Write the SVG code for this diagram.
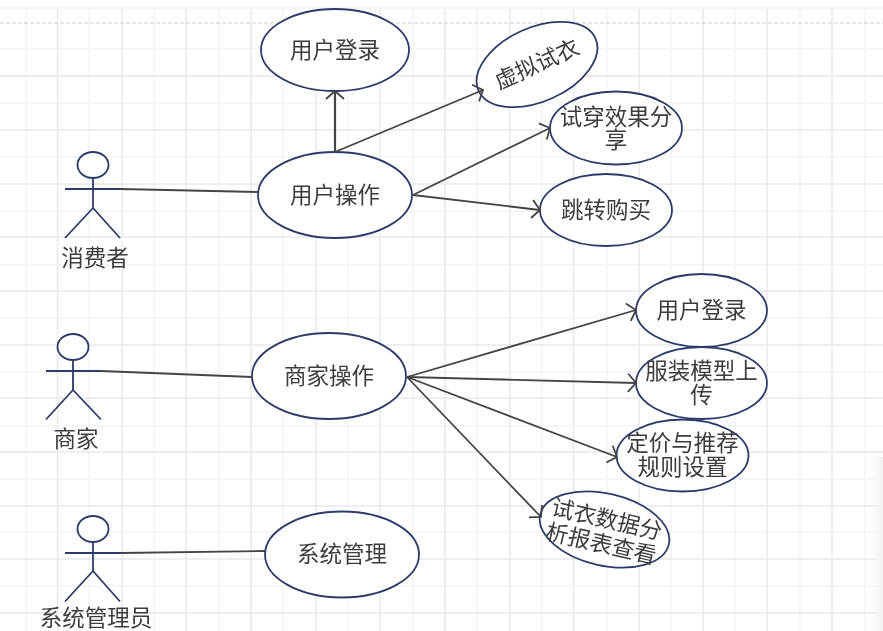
<svg xmlns="http://www.w3.org/2000/svg" width="883" height="631" viewBox="0 0 883 631">
<style>
.uc{fill:#fff;stroke:#2f3b6b;stroke-width:1.8}
.act{fill:none;stroke:#2f3b6b;stroke-width:1.8}
.hd{fill:#fff;stroke:#2f3b6b;stroke-width:1.8}
.t{font-family:"Liberation Sans","Noto Sans CJK SC",sans-serif;font-size:22.5px;fill:#3c3c3c;text-anchor:middle}
.c{fill:none;stroke:#444;stroke-width:1.8}
</style>
<defs>
<marker id="arr" markerUnits="userSpaceOnUse" markerWidth="24" markerHeight="24" refX="12" refY="12" orient="auto" overflow="visible">
<path d="M4,3 L12,12 L4,21" fill="none" stroke="#444" stroke-width="1.8"/>
</marker>
<linearGradient id="sh" x1="0" y1="0" x2="1" y2="0"><stop offset="0" stop-color="#f6f6f6" stop-opacity="0"/><stop offset="1" stop-color="#f2f2f2"/></linearGradient>
<filter id="soft" x="-2%" y="-2%" width="104%" height="104%"><feGaussianBlur stdDeviation="0.45"/></filter>
</defs>
<rect width="883" height="631" fill="#fff"/>
<g id="scene" filter="url(#soft)">
<g id="grid" fill="none">
<path stroke="#f4f4f4" stroke-width="1.5" d="M26,9V631M89,9V631M154,9V631M219,9V631M283,9V631M348,9V631M413,9V631M477,9V631M542,9V631M607,9V631M671,9V631M735,9V631M800,9V631M865,9V631M0,49H883M0,103H883M0,157H883M0,211H883M0,265H883M0,318H883M0,372H883M0,426H883M0,479H883M0,532H883M0,586H883"/>
<path stroke="#e9e9e9" stroke-width="1.5" d="M57.500,9V631M122,9V631M186,9V631M251,9V631M316,9V631M380,9V631M445,9V631M510,9V631M573.500,9V631M639,9V631M703,9V631M767,9V631M832,9V631M0,76H883M0,130H883M0,184H883M0,237H883M0,291H883M0,345H883M0,398H883M0,452H883M0,506H883M0,559H883M0,613H883"/>
<path stroke="#f2f2f2" stroke-width="1.500" d="M0,8H883"/>
<path stroke="#cfcfcf" stroke-width="1.200" stroke-dasharray="4 2" d="M0,23H883"/>
<rect x="868" y="457" width="15" height="174" fill="url(#sh)"/>
</g>
<g id="n-login1"><ellipse class="uc" cx="335" cy="50" rx="74" ry="41"/><text class="t" x="335" y="58">用户登录</text></g>
<g id="n-userop"><ellipse class="uc" cx="335" cy="195" rx="77" ry="43"/><text class="t" x="335" y="203">用户操作</text></g>
<g id="n-tryon"><ellipse class="uc" cx="537" cy="64.500" rx="64" ry="37" transform="rotate(-24 537 64.500)"/><text class="t" x="537" y="72" transform="rotate(-24 537 64.500)">虚拟试衣</text></g>
<g id="n-share"><ellipse class="uc" cx="616" cy="128" rx="66" ry="36.500"/><text class="t"><tspan x="616" y="125">试穿效果分</tspan><tspan x="616" y="148">享</tspan></text></g>
<g id="n-buy"><ellipse class="uc" cx="606" cy="210" rx="66" ry="36"/><text class="t" x="606" y="218">跳转购买</text></g>
<g id="n-merchop"><ellipse class="uc" cx="329" cy="376" rx="77" ry="43"/><text class="t" x="329" y="384">商家操作</text></g>
<g id="n-login2"><ellipse class="uc" cx="701.500" cy="310.500" rx="65.500" ry="36.500"/><text class="t" x="701.500" y="318">用户登录</text></g>
<g id="n-upload"><ellipse class="uc" cx="701.500" cy="383" rx="65.500" ry="36"/><text class="t"><tspan x="701.500" y="379">服装模型上</tspan><tspan x="701.500" y="403">传</tspan></text></g>
<g id="n-price"><ellipse class="uc" cx="682.500" cy="455.500" rx="66" ry="36"/><text class="t"><tspan x="682.500" y="451">定价与推荐</tspan><tspan x="682.500" y="475">规则设置</tspan></text></g>
<g id="n-report"><ellipse class="uc" cx="604.500" cy="529.500" rx="66" ry="36" transform="rotate(13 604.500 529.500)"/><text class="t" transform="rotate(13 604.500 529.500)"><tspan x="604.500" y="527">试衣数据分</tspan><tspan x="604.500" y="552">析报表查看</tspan></text></g>
<g id="n-sys"><ellipse class="uc" cx="342" cy="554.500" rx="77" ry="43"/><text class="t" x="342" y="562">系统管理</text></g>
<g id="a-consumer"><ellipse class="hd" cx="93" cy="165" rx="15.500" ry="13"/><path class="act" d="M93,178V208M65,189H120M65,238L93,208L120,238"/><text class="t" x="95" y="266">消费者</text></g>
<g id="a-merchant"><ellipse class="hd" cx="73" cy="347" rx="15.500" ry="13"/><path class="act" d="M73,360V390M46,371H101M46,419.500L73,390L101,419.500"/><text class="t" x="76" y="447">商家</text></g>
<g id="a-admin"><ellipse class="hd" cx="93" cy="529" rx="15.500" ry="13"/><path class="act" d="M93,542V571M65,553H120M65,601.500L93,571L120,601.500"/><text class="t" x="96" y="626">系统管理员</text></g>
<g id="connectors">
<path class="c" d="M120,189L258,192"/>
<path class="c" d="M101,371L252,377"/>
<path class="c" d="M120,553L265,551"/>
<path class="c" style="stroke-width:2.200" d="M335,152L335,91" marker-end="url(#arr)"/>
<path class="c" d="M335,152L483,90" marker-end="url(#arr)"/>
<path class="c" d="M413,195L550,128" marker-end="url(#arr)"/>
<path class="c" d="M413,195L540,210" marker-end="url(#arr)"/>
<path class="c" d="M407,377L636,310" marker-end="url(#arr)"/>
<path class="c" d="M407,377L636,383" marker-end="url(#arr)"/>
<path class="c" d="M407,377L617,457" marker-end="url(#arr)"/>
<path class="c" d="M407,377L541,517" marker-end="url(#arr)"/>
</g>
</g>
</svg>
